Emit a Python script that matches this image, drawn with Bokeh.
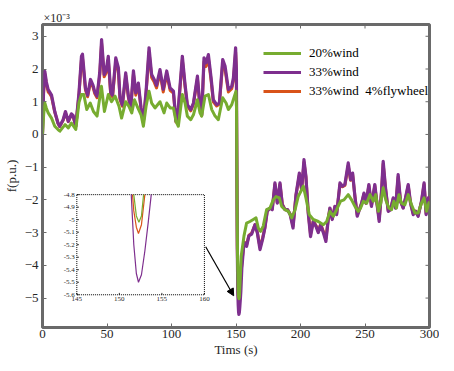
from bokeh.plotting import figure
from bokeh.models import (Range1d, FixedTicker, Legend, LegendItem, Title,
                          Arrow, NormalHead)
from bokeh.embed import file_html
from bokeh.resources import INLINE
from bokeh.core.properties import value

# ---------------- data (values in units of 1e-3 p.u.) ----------------
t_p = [0, 0.8, 1.8, 3.0, 4.4, 5.5, 7.0, 9.5, 12.0, 13.3, 16.0, 17.8, 20.0, 22.4, 23.7,
       25.8, 28.3, 30.2, 31.0, 33.3, 35.0, 37.2, 39.2, 40.5, 42.3, 44.4, 45.8, 47.8,
       49.3, 51.0, 52.9, 54.3, 56.8, 58.8, 60.1, 61.9, 64.5, 66.6, 68.4, 70.5, 72.3,
       74.3, 76.4, 78.2, 80.3, 82.6, 84.6, 86.6, 88.4, 91.1, 93.6, 96.3, 98.9, 101.5,
       103.5, 105.3, 108.4, 110.5, 112.3, 114.9, 117.0, 120.1, 122.1, 123.4, 125.2,
       126.8, 128.6, 130.7, 132.4, 135.0, 137.1, 139.7, 141.5, 144.1, 146.7, 148.0,
       149.7, 150.3, 150.7, 151.0, 151.4, 151.55, 151.7, 152.0, 152.25, 152.6, 153.0,
       153.4, 153.75, 154.5, 156.2, 158.2, 160.0, 162.1, 164.7, 166.5, 168.6, 170.6,
       172.4, 174.2, 176.3, 178.1, 180.2, 182.0, 184.1, 185.9, 188.0, 190.0, 192.0,
       194.2, 196.5, 199.1, 200.9, 202.7, 204.2, 206.0, 207.8, 209.9, 212.0, 213.8,
       215.6, 217.7, 219.7, 221.5, 222.8, 224.6, 226.7, 228.0, 230.6, 232.6, 234.4,
       237.0, 238.8, 240.4, 242.2, 244.0, 245.6, 247.4, 249.2, 250.8, 253.0, 255.0,
       257.6, 259.4, 261.0, 262.8, 264.1, 265.9, 268.0, 269.8, 271.9, 273.7, 275.7,
       277.5, 279.6, 281.4, 283.5, 285.3, 287.4, 289.2, 291.2, 293.8, 295.8, 297.4,
       299.2, 300.0]

wind33 = [0.0, 1.3, 1.93, 1.6, 1.37, 1.3, 1.2, 0.7, 0.35, 0.25, 0.45, 0.7, 0.4, 0.63, 0.58,
          0.25, 1.28, 2.39, 2.45, 1.42, 1.2, 1.68, 1.5, 1.3, 1.17, 1.9, 2.9, 1.83,
          1.95, 2.39, 1.27, 1.2, 2.34, 2.04, 1.12, 0.9, 1.88, 1.17, 0.81, 1.94, 1.27,
          1.57, 0.81, 0.4, 1.32, 2.65, 1.83, 1.68, 1.5, 1.98, 1.38, 1.94, 1.42, 1.32,
          0.4, 0.81, 2.39, 1.53, 0.91, 0.76, 0.96, 1.78, 0.86, 0.6, 2.34,
          2.19, 2.44, 1.73, 1.06, 0.91, 0.96, 2.29, 2.09, 1.37, 1.47, 1.73,
          2.65, 2.0, -1.2, -3.5, -4.8, -5.0, -5.2, -5.43, -5.5, -5.44, -5.25,
          -5.02, -4.8, -4.1, -3.3, -3.42, -3.1, -3.05, -2.76, -3.0, -3.52, -3.21,
          -2.86, -2.35, -2.25, -2.3, -1.48, -2.1, -1.48, -2.15, -2.3, -2.3, -2.45,
          -2.86, -1.85, -1.18, -1.69, -0.77, -1.28, -2.4, -3.12, -2.66, -2.81, -3.0,
          -2.76, -3.0, -3.27, -2.6, -2.25, -2.6, -2.2, -2.45, -1.48, -1.58, -1.53,
          -0.87, -1.38, -1.18, -1.9, -2.5, -2.3, -2.1, -1.79, -2.1, -1.53, -2.2,
          -1.53, -2.15, -2.66, -1.73, -0.82, -1.63, -2.35, -2.3, -1.94, -2.25, -1.23,
          -2.04, -2.25, -1.94, -1.53, -2.1, -2.45, -2.35, -2.5, -2.04, -1.48, -2.45,
          -1.94, -1.9]

wind33_fly = [0.0, 1.25, 1.85, 1.55, 1.3, 1.25, 1.15, 0.68, 0.34, 0.24, 0.43, 0.66, 0.39, 0.6, 0.56,
              0.25, 1.22, 2.28, 2.33, 1.36, 1.15, 1.6, 1.44, 1.25, 1.12, 1.82, 2.78, 1.76,
              1.88, 2.28, 1.2, 1.15, 2.22, 1.95, 1.07, 0.86, 1.8, 1.12, 0.78, 1.85, 1.2,
              1.5, 0.78, 0.38, 1.26, 2.52, 1.74, 1.6, 1.42, 1.88, 1.3, 1.85, 1.35, 1.26,
              0.38, 0.77, 2.28, 1.46, 0.87, 0.72, 0.92, 1.7, 0.82, 0.57, 2.22,
              2.08, 2.32, 1.65, 1.0, 0.87, 0.92, 2.18, 1.99, 1.3, 1.4, 1.64,
              2.52, 1.9, -1.2, -3.4, -4.5, -4.8, -4.93, -5.06, -5.11, -5.04, -4.8,
              -4.55, -4.35, -3.95, -3.28, -3.38, -3.08, -3.02, -2.76, -2.98, -3.45, -3.17,
              -2.84, -2.35, -2.25, -2.28, -1.52, -2.08, -1.52, -2.13, -2.3, -2.3, -2.43,
              -2.8, -1.86, -1.24, -1.69, -0.85, -1.3, -2.38, -3.05, -2.64, -2.78, -2.96,
              -2.74, -2.96, -3.2, -2.58, -2.26, -2.58, -2.2, -2.43, -1.53, -1.6, -1.56,
              -0.95, -1.4, -1.22, -1.9, -2.46, -2.3, -2.1, -1.82, -2.1, -1.57, -2.18,
              -1.57, -2.14, -2.6, -1.76, -0.9, -1.66, -2.33, -2.3, -1.96, -2.24, -1.3,
              -2.04, -2.24, -1.95, -1.57, -2.1, -2.43, -2.34, -2.48, -2.05, -1.52, -2.42,
              -1.95, -1.9]

t_g = [0, 0.9, 1.8, 3.0, 4.4, 7.0, 9.5, 12.0, 13.5, 17.5, 20.0, 22.4, 25.8, 28.3, 30.2,
       32.0, 34.3, 37.0, 39.5, 42.3, 45.7, 48.0, 51.0, 53.5, 56.3, 59.3, 61.3, 64.5,
       67.0, 69.2, 71.3, 73.9, 76.4, 78.2, 80.3, 82.6, 84.6, 87.2, 91.1, 94.2, 96.3,
       99.0, 101.5, 103.5, 105.3, 108.4, 110.5, 112.3, 114.9, 117.0, 120.1, 122.1,
       123.4, 126.0, 128.6, 131.2, 133.8, 136.3, 139.7, 142.3, 144.1, 146.7, 150.0,
       150.4, 150.8, 151.2, 151.7, 152.0, 152.3, 152.6, 152.85, 153.5, 154.0, 156.2,
       158.2, 160.8, 163.4, 165.5, 167.3, 169.1, 171.1, 173.7, 176.3, 178.9, 181.0,
       183.6, 185.4, 188.0, 190.6, 193.2, 195.8, 198.2, 200.9, 202.2, 204.2, 206.8,
       209.9, 213.8, 217.7, 220.3, 222.8, 225.4, 228.0, 231.1, 233.7, 237.0, 239.6,
       242.2, 244.8, 246.6, 248.7, 251.3, 253.9, 256.5, 258.3, 260.4, 262.2, 264.1,
       266.1, 268.5, 270.6, 272.4, 274.4, 276.3, 278.3, 280.9, 283.5, 286.1, 288.7,
       291.2, 293.8, 295.8, 297.7, 299.5, 300.0]

wind20 = [0.0, 0.6, 0.96, 0.8, 0.66, 0.5, 0.25, 0.15, 0.1, 0.3, 0.2, 0.35, 0.15, 0.98, 1.22,
          1.22, 0.76, 0.96, 0.7, 0.56, 1.47, 0.7, 1.22, 1.0, 1.17, 0.86, 0.5, 1.0,
          0.86, 0.66, 1.06, 0.81, 0.6, 0.25, 0.86, 1.32, 0.96, 0.81, 1.0, 0.66, 0.96,
          0.81, 0.81, 0.4, 0.25, 1.22, 0.96, 0.56, 0.45, 0.6, 1.06, 0.66,
          0.56, 1.17, 1.22, 0.76, 0.56, 0.45, 1.12, 0.96, 0.76, 0.91, 1.32,
          0.8, -2.0, -3.8, -4.8, -4.97, -5.02, -4.97, -4.8, -4.2, -3.73, -3.1,
          -2.71, -2.66, -2.6, -2.55, -2.86, -2.96, -2.8, -2.3, -2.25, -2.0, -1.9,
          -1.94, -2.2, -2.3, -2.35, -2.55, -2.3, -1.9, -1.69, -1.58, -1.94, -2.45,
          -2.6, -2.66, -2.76, -2.66, -2.35, -2.5, -2.3, -2.04, -2.0, -1.84, -2.0,
          -2.2, -2.35, -2.25, -2.04, -2.1, -1.84, -2.04, -1.84, -2.35, -2.1, -1.63,
          -2.0, -2.25, -2.3, -2.04, -2.25, -1.84, -2.1, -2.15, -1.84, -2.15, -2.4,
          -2.4, -2.1, -1.94, -2.35, -2.1, -2.05]

x_ticks = [0, 50, 100, 150, 200, 250, 300]
y_ticks = [-5, -4, -3, -2, -1, 0, 1, 2, 3]
inset_x_ticks = [145, 150, 155, 160]
inset_x_labels = ["145", "150", "155", "160"]
inset_y_ticks = [-4.8, -4.9, -5.0, -5.1, -5.2, -5.3, -5.4, -5.5, -5.6]
inset_y_labels = ["-4.8", "-4.9", "-5", "-5.1", "-5.2", "-5.3", "-5.4", "-5.5", "-5.6"]
series_names = ["20%wind", "33%wind", "33%wind  4%flywheel"]

GREEN, PURPLE, ORANGE = "#77AC30", "#7E2F8E", "#D95319"
FONT = "Liberation Serif"
AXC = "#6a6a6a"
TXT = "#262626"
X0, X1, Y0, Y1 = 0, 300, -5.9, 3.36

p = figure(frame_width=387, frame_height=303, x_range=Range1d(X0, X1), y_range=Range1d(Y0, Y1),
           output_backend="svg", toolbar_location=None,
           min_border_left=39, min_border_right=10, min_border_top=24, min_border_bottom=0,
           background_fill_color="white", border_fill_color="white")
p.xgrid.visible = False
p.ygrid.visible = False
p.outline_line_color = AXC
p.outline_line_width = 3
p.outline_line_alpha = 1.0

# exponent as the title (top-left)
p.title = Title(text="\u00d710\u207b\u00b3", align="left", text_font=FONT,
                text_font_size="12px", text_font_style="normal", text_color=TXT,
                standoff=0, offset=1)

for ax in (p.xaxis[0], p.yaxis[0]):
    ax.axis_line_color = AXC
    ax.axis_line_width = 1.5
    ax.major_tick_line_color = AXC
    ax.major_tick_in = 4
    ax.major_tick_out = 0
    ax.minor_tick_line_color = None
    ax.minor_tick_in = 0
    ax.minor_tick_out = 0
    ax.major_label_text_font = FONT
    ax.major_label_text_color = TXT
    ax.major_label_text_font_size = "13px"
    ax.axis_label_text_font = FONT
    ax.axis_label_text_font_style = "normal"
    ax.axis_label_text_color = TXT
    ax.axis_label_text_font_size = "13px"

p.xaxis.major_label_standoff = 2
p.xaxis.axis_label_standoff = 1
p.yaxis.major_label_standoff = 4
p.yaxis.axis_label_standoff = 3

p.xaxis.ticker = FixedTicker(ticks=x_ticks)
p.yaxis.ticker = FixedTicker(ticks=y_ticks)
p.xaxis.axis_label = "Tims (s)"
p.yaxis.axis_label = "f(p.u.)"

# tick marks on the top and right edges (half of each dash is clipped by the frame)
p.scatter(x=x_ticks, y=[Y1] * len(x_ticks), marker="dash", angle=1.5708, size=8,
          line_color=AXC, line_width=1)
p.scatter(x=[X1] * len(y_ticks), y=y_ticks, marker="dash", size=8,
          line_color=AXC, line_width=1)

# main series (orange below purple, green on top)
r_o = p.line(t_p, wind33_fly, color=ORANGE, line_width=3, line_join="round")
r_p = p.line(t_p, wind33, color=PURPLE, line_width=3.2, line_join="round")
r_g = p.line(t_g, wind20, color=GREEN, line_width=3, line_join="round")

legend = Legend(items=[LegendItem(label=series_names[0], renderers=[r_g]),
                       LegendItem(label=series_names[1], renderers=[r_p]),
                       LegendItem(label=series_names[2], renderers=[r_o])],
                location=(221, 228), border_line_color=None, background_fill_alpha=0,
                padding=0, margin=0, spacing=3, glyph_width=38, glyph_height=16,
                label_height=16, label_standoff=8, label_text_font=FONT,
                label_text_font_size="13px", label_text_color="black")
p.add_layout(legend)

# arrow pointing to the dip
p.add_layout(Arrow(end=NormalHead(size=7, fill_color="black", line_color="black"),
                   x_start=126.5, y_start=-3.43, x_end=148.2, y_end=-4.93,
                   line_color="black", line_width=1.2))

# inset (sub-coordinate system inside the main frame)
sub = p.subplot(x_source=Range1d(145, 160), y_source=Range1d(-5.6, -4.8),
                x_target=Range1d(26.6, 125.5), y_target=Range1d(-4.9, -1.84))
sub.quad(left=[145], right=[160], bottom=[-5.6], top=[-4.8], fill_color="white",
         line_color="black", line_dash="1 1", line_width=1)
sub.segment(x0=[145] * len(inset_y_ticks), y0=inset_y_ticks,
            x1=[145.25] * len(inset_y_ticks), y1=inset_y_ticks, line_color="black", line_width=0.8)
sub.segment(x0=inset_x_ticks, y0=[-5.6] * 4, x1=inset_x_ticks, y1=[-5.585] * 4,
            line_color="black", line_width=0.8)
sub.text(x=[145] * len(inset_y_ticks), y=inset_y_ticks, text=inset_y_labels,
         x_offset=-2, text_align="right", text_baseline="middle",
         text_font=value(FONT), text_font_size="7px", text_color=TXT)
sub.text(x=inset_x_ticks, y=[-5.6] * 4, text=inset_x_labels, y_offset=2,
         text_align="center", text_baseline="top",
         text_font=value(FONT), text_font_size="7px", text_color=TXT)


def in_box(ts, vs):
    keep = [(a, b) for a, b in zip(ts, vs) if 145 <= a <= 160 and b <= -4.8 + 1e-9]
    return [k[0] for k in keep], [k[1] for k in keep]


for ts, vs, col in [(t_p, wind33, PURPLE), (t_p, wind33_fly, ORANGE), (t_g, wind20, GREEN)]:
    xs, ys = in_box(ts, vs)
    sub.line(xs, ys, color=col, line_width=1.2)

open("out.html", "w").write(file_html(p, INLINE))
